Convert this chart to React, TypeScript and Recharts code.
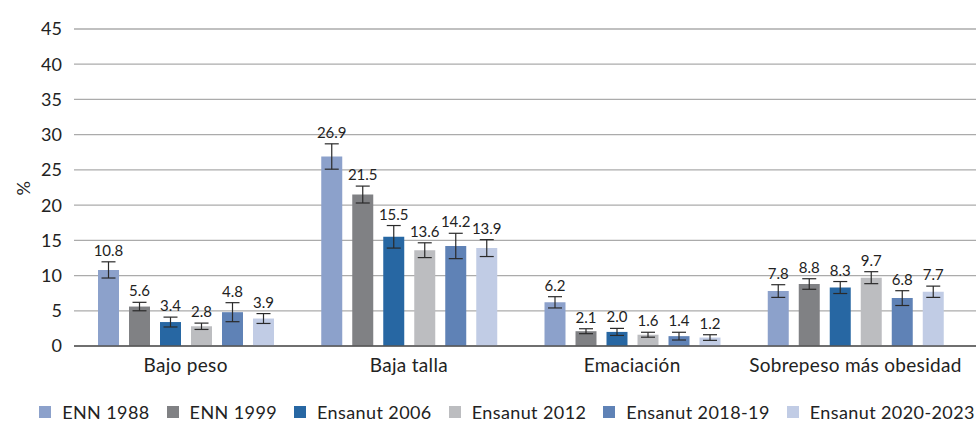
import { BarChart, Bar, XAxis, YAxis, CartesianGrid, Legend, ErrorBar, LabelList } from "recharts";

const categories = ["Bajo peso", "Baja talla", "Emaciación", "Sobrepeso más obesidad"];
const seriesNames = ["ENN 1988", "ENN 1999", "Ensanut 2006", "Ensanut 2012", "Ensanut 2018-19", "Ensanut 2020-2023"];
const seriesColors = ["#8ca1cb", "#808184", "#2767a3", "#bcbdc0", "#5f82b6", "#c1cce5"];

const enn1988 = [10.8, 26.9, 6.2, 7.8];
const enn1999 = [5.6, 21.5, 2.1, 8.8];
const ensanut2006 = [3.4, 15.5, 2.0, 8.3];
const ensanut2012 = [2.8, 13.6, 1.6, 9.7];
const ensanut2018 = [4.8, 14.2, 1.4, 6.8];
const ensanut2020 = [3.9, 13.9, 1.2, 7.7];

// half-width of the confidence interval
const err1988 = [1.15, 1.8, 0.8, 0.9];
const err1999 = [0.6, 1.2, 0.35, 0.75];
const err2006 = [0.7, 1.6, 0.5, 0.85];
const err2012 = [0.45, 1.05, 0.35, 0.85];
const err2018 = [1.35, 1.8, 0.55, 1.05];
const err2020 = [0.7, 1.2, 0.4, 0.8];

const yTicks = [0, 5, 10, 15, 20, 25, 30, 35, 40, 45];

const values = [enn1988, enn1999, ensanut2006, ensanut2012, ensanut2018, ensanut2020];
const errors = [err1988, err1999, err2006, err2012, err2018, err2020];

const data = categories.map((name, i) => {
  const row: Record<string, string | number> = { name };
  values.forEach((v, s) => {
    row[`v${s}`] = v[i];
    row[`e${s}`] = errors[s][i];
  });
  return row;
});

const FONT = "Lato, 'Open Sans', sans-serif";
const MARGIN = { top: 29, right: 0, left: 0, bottom: 48 };
const X_AXIS_H = 30;
const CHART_H = 424;
const PLOT_H = CHART_H - MARGIN.top - MARGIN.bottom - X_AXIS_H;
const Y_MAX = 45;

function makeLabel(s: number) {
  return (props: any) => {
    const { x, y, width, value, index } = props;
    const errPx = (errors[s][index] * PLOT_H) / Y_MAX;
    return (
      <text
        x={Number(x) + Number(width) / 2}
        y={Number(y) - errPx - 6}
        textAnchor="middle"
        fontSize={15}
        fill="#222"
        fontFamily={FONT}
      >
        {Number(value).toFixed(1)}
      </text>
    );
  };
}

function LegendContent() {
  return (
    <div style={{ display: "flex", justifyContent: "center", alignItems: "center", gap: 17, fontFamily: FONT, fontSize: 18, letterSpacing: 0.4, color: "#222" }}>
      {seriesNames.map((n, i) => (
        <div key={n} style={{ display: "flex", alignItems: "center" }}>
          <span style={{ width: 12, height: 12, background: seriesColors[i], display: "inline-block", marginRight: 11 }} />
          <span>{n}</span>
        </div>
      ))}
    </div>
  );
}

export default function App() {
  return (
    <div style={{ position: "absolute", left: 0, top: 0, width: 976, height: CHART_H, background: "#fff" }}>
      <BarChart width={976} height={CHART_H} data={data} margin={MARGIN} barSize={21} barGap={10}>
        <CartesianGrid vertical={false} stroke="#ababab" strokeWidth={1.3} />
        <XAxis
          dataKey="name"
          height={X_AXIS_H}
          tickLine={false}
          axisLine={{ stroke: "#555", strokeWidth: 1.3 }}
          tickMargin={7}
          padding={{ left: 0, right: 9 }}
          tick={{ fill: "#222", fontSize: 19, fontFamily: FONT, letterSpacing: 0.3 }}
        />
        <YAxis
          width={74}
          domain={[0, Y_MAX]}
          ticks={yTicks}
          interval={0}
          tickLine={false}
          axisLine={false}
          tickMargin={6}
          tick={{ fill: "#222", fontSize: 18, fontFamily: FONT }}
          label={{ value: "%", angle: -90, position: "insideLeft", offset: 24, dy: 8, style: { fill: "#222", fontSize: 18, fontFamily: FONT } }}
        />
        <Legend
          layout="horizontal"
          verticalAlign="middle"
          align="center"
          content={<LegendContent />}
          wrapperStyle={{ position: "absolute", top: 401, left: 19, width: 976 }}
        />
        {seriesNames.map((n, s) => (
          <Bar key={n} dataKey={`v${s}`} name={n} fill={seriesColors[s]} isAnimationActive={false}>
            <ErrorBar dataKey={`e${s}`} width={7} stroke="#2a2a2a" strokeWidth={1.2} isAnimationActive={false} />
            <LabelList dataKey={`v${s}`} content={makeLabel(s)} />
          </Bar>
        ))}
      </BarChart>
    </div>
  );
}
